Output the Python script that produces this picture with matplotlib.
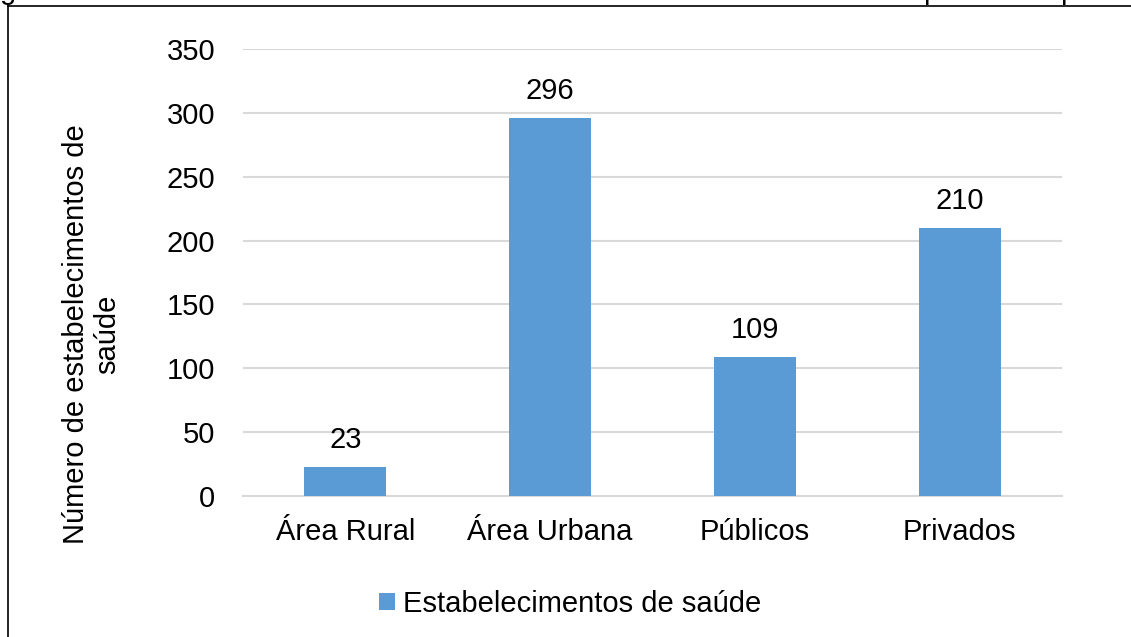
import matplotlib
matplotlib.use('Agg')
import matplotlib.pyplot as plt
from matplotlib.lines import Line2D

plt.rcParams['font.family'] = ['Liberation Sans', 'DejaVu Sans']

categorias = ['Área Rural', 'Área Urbana', 'Públicos', 'Privados']
valores = [23, 296, 109, 210]
serie = 'Estabelecimentos de saúde'
yticks = [0, 50, 100, 150, 200, 250, 300, 350]

cor = '#5B9BD5'
W, H = 1131, 637
fs = 21

fig = plt.figure(figsize=(W / 100, H / 100), dpi=100)
ax = fig.add_axes([243 / W, 1 - 496 / H, (1062 - 243) / W, (496 - 49) / H])

x = range(len(categorias))
bars = ax.bar(x, valores, width=0.4, color=cor, label=serie, zorder=3)
for b, v in zip(bars, valores):
    ax.annotate(str(v), (b.get_x() + b.get_width() / 2, v), xytext=(0, 9),
                textcoords='offset points', ha='center', va='bottom', fontsize=fs)

ax.set_xlim(-0.5, 3.5)
ax.set_ylim(0, 350)
ax.set_yticks(yticks)
ax.set_xticks(list(x))
ax.set_xticklabels(categorias)
ax.tick_params(axis='both', length=0, labelsize=fs)
ax.tick_params(axis='y', pad=20)
ax.tick_params(axis='x', pad=16)
ax.grid(axis='y', color='#D9D9D9', linewidth=1.5, zorder=0)
for s in ['top', 'right', 'left']:
    ax.spines[s].set_visible(False)
ax.spines['bottom'].set_color('#D9D9D9')
ax.spines['bottom'].set_linewidth(1.5)

fig.text(92 / W, 1 - 334 / H, 'Número de estabelecimentos de\nsaúde', fontsize=fs,
         rotation=90, ha='center', va='center', multialignment='center', linespacing=1.15)

fig.legend(handles=[bars], labels=[serie], loc='center', bbox_to_anchor=(570 / W, 1 - 604 / H),
           frameon=False, fontsize=fs, handlelength=0.55, handleheight=0.55, handletextpad=0.25)

# recorte da moldura da figura original
fig.add_artist(Line2D([8 / W, 1], [1 - 6 / H, 1 - 6 / H], color='black', linewidth=1.2))
fig.add_artist(Line2D([8 / W, 8 / W], [0, 1 - 6 / H], color='black', linewidth=1.2))
for xp, ch in [(0 / W, 'g'), (923 / W, 'p'), (1060 / W, 'p')]:
    fig.text(xp, 1 + 1 / H, ch, fontsize=fs, ha='left', va='baseline')

fig.savefig('out.png', dpi=100)
